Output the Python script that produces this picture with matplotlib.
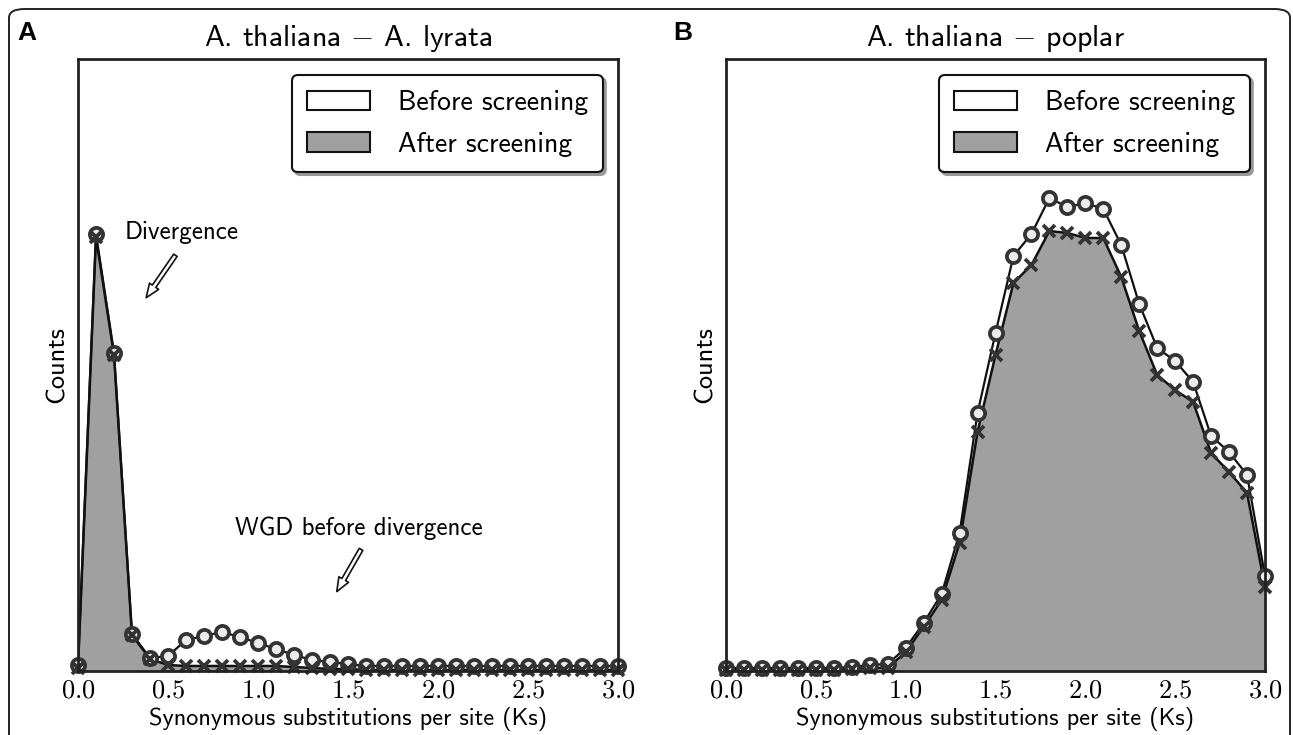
import matplotlib
matplotlib.use("Agg")
from matplotlib import pyplot as plt
from matplotlib.patches import Patch, FancyBboxPatch

plt.rcParams["mathtext.fontset"] = "cm"

KS = [round(0.1 * i, 1) for i in range(31)]
TICKS = [0.0, 0.5, 1.0, 1.5, 2.0, 2.5, 3.0]
TICK_LABELS = ["0.0", "0.5", "1.0", "1.5", "2.0", "2.5", "3.0"]

# A. thaliana - A. lyrata
lyr_before = [6, 437, 318, 37, 13, 15, 31, 35, 39, 34, 28, 22, 16, 11, 9, 7,
              5, 5, 5, 5, 5, 5, 5, 5, 5, 5, 5, 5, 5, 5, 5]
lyr_after = [3, 434, 316, 36, 12, 6, 5, 5, 5, 5, 5, 5, 4, 3, 2, 2,
             1, 1, 1, 1, 1, 1, 1, 1, 1, 1, 1, 1, 1, 1, 1]

# A. thaliana - poplar
pop_before = [3, 3, 3, 3, 3, 3, 3, 4, 6, 7, 23, 48, 77, 138, 258, 338,
              415, 437, 473, 464, 468, 462, 426, 367, 323, 310, 289, 235, 219, 196, 95]
pop_after = [1, 1, 1, 1, 1, 1, 1, 2, 3, 3, 19, 44, 71, 128, 239, 316,
             388, 406, 440, 438, 433, 433, 394, 340, 296, 281, 269, 218, 199, 178, 84]

YMAX = 612

W, H = 1293, 735
fig = plt.figure(figsize=(W / 100, H / 100), dpi=100)

# rounded frame around the whole figure
frame = FancyBboxPatch((9 / W, -0.05), (1290 - 9) / W, (H - 9) / H + 0.05,
                       boxstyle="round,pad=0,rounding_size=0.012",
                       transform=fig.transFigure, fill=False,
                       ec="#222222", lw=1.4)
fig.patches.append(frame)

SANS = "cmss10"


def panel(rect, before, after, title, letter, letter_x):
    ax = fig.add_axes(rect)
    ax.fill_between(KS, after, color="#a0a0a0", lw=0, zorder=1)
    ax.plot(KS, before, "-", color="#111111", lw=1.6, zorder=2)
    ax.plot(KS, after, "-", color="#111111", lw=1.8, zorder=2)
    ax.plot(KS, before, "o", ms=9.5, mfc="#ebebeb", mec="#333333", mew=2.7,
            zorder=3, clip_on=False)
    ax.plot(KS, after, "x", ms=8.5, mec="#333333", mew=2.7, zorder=4,
            clip_on=False)
    ax.set_xlim(0, 3.0)
    ax.set_ylim(0, YMAX)
    ax.set_yticks([])
    ax.set_xticks(TICKS)
    ax.set_xticklabels(["$" + t + "$" for t in TICK_LABELS], fontsize=19)
    ax.tick_params(axis="x", length=0, pad=5)
    for s in ax.spines.values():
        s.set_linewidth(2)
        s.set_color("#222222")
        s.set_zorder(5)
    ax.set_xlabel("Synonymous substitutions per site (Ks)", family=SANS,
                  fontsize=17.5, labelpad=2)
    ax.set_ylabel("Counts", family=SANS, fontsize=19, labelpad=7)
    ax.set_title(title, family=SANS, fontsize=21.5, pad=9)
    handles = [Patch(fc="white", ec="#111111", lw=1.5),
               Patch(fc="#a0a0a0", ec="#111111", lw=1.5)]
    leg = ax.legend(handles, ["Before screening", "After screening"],
                    loc="upper right", prop={"family": SANS, "size": 20},
                    bbox_to_anchor=(1 - 15 / (rect[2] * W), 1 - 16 / (rect[3] * H)),
                    borderaxespad=0, fancybox=True,
                    shadow={"color": "#999999", "alpha": 1},
                    framealpha=1, edgecolor="#111111", handlelength=2.25,
                    handleheight=0.7, handletextpad=1.0, labelspacing=0.6,
                    borderpad=0.55)
    leg.get_frame().set_linewidth(1.5)
    fig.text(letter_x / W, 1 - 33 / H, letter, family="Liberation Sans",
             weight="bold", fontsize=19, va="center", ha="center")
    return ax


axA = panel([78 / W, 64 / H, 540 / W, 612 / H], lyr_before, lyr_after,
            r"A. thaliana $-$ A. lyrata", "A", 27)
axB = panel([726 / W, 64 / H, 539 / W, 612 / H], pop_before, pop_after,
            r"A. thaliana $-$ poplar", "B", 683)

arrow = dict(arrowstyle="simple,head_length=1.0,head_width=0.8,tail_width=0.3",
             fc="white", ec="#111111", lw=1.2)
axA.text(0.26, 438, "Divergence", family=SANS, fontsize=18, va="center")
axA.annotate("", xy=(0.37, 371), xytext=(0.55, 418), arrowprops=arrow)
axA.text(1.56, 143, "WGD before divergence", family=SANS, fontsize=18,
         va="center", ha="center")
axA.annotate("", xy=(1.43, 77), xytext=(1.58, 124), arrowprops=arrow)

fig.savefig("out.png", dpi=100)
plt.close(fig)
